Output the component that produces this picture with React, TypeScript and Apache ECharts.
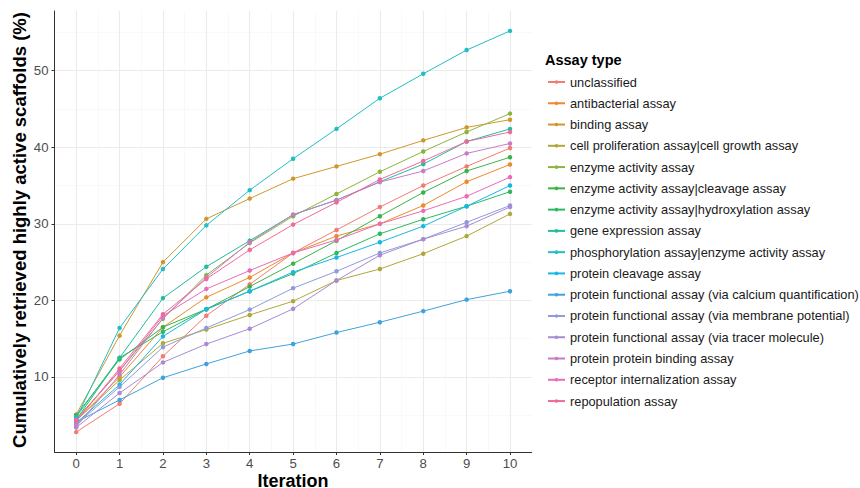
import React, { useEffect, useRef } from "react";
import * as echarts from "echarts";

const iterations = [0, 1, 2, 3, 4, 5, 6, 7, 8, 9, 10];

const assayTypes = [
  "unclassified",
  "antibacterial assay",
  "binding assay",
  "cell proliferation assay|cell growth assay",
  "enzyme activity assay",
  "enzyme activity assay|cleavage assay",
  "enzyme activity assay|hydroxylation assay",
  "gene expression assay",
  "phosphorylation assay|enzyme activity assay",
  "protein cleavage assay",
  "protein functional assay (via calcium quantification)",
  "protein functional assay (via membrane potential)",
  "protein functional assay (via tracer molecule)",
  "protein protein binding assay",
  "receptor internalization assay",
  "repopulation assay",
];

const colors = [
  "#F27B72", "#EC8A2C", "#D0982C", "#B0A73A", "#8DB43A", "#3AB44A", "#2DB862", "#22BC9E",
  "#22BEC6", "#1AB7E6", "#3FA2DC", "#8F9BD8", "#A88BD4", "#C97CC6", "#E86DB6", "#EF6A9C",
];

const unclassified = [2.8, 6.5, 12.7, 18.0, 22.1, 26.2, 29.2, 32.2, 35.0, 37.5, 39.9];
const antibacterial = [4.3, 10.0, 16.5, 20.4, 23.0, 26.2, 28.4, 30.0, 32.4, 35.5, 37.75];
const binding = [5.1, 15.4, 25.0, 30.65, 33.3, 35.9, 37.5, 39.1, 40.9, 42.6, 43.6];
const cellProliferation = [4.3, 9.6, 14.4, 16.2, 18.1, 19.9, 22.6, 24.1, 26.1, 28.4, 31.3];
const enzymeActivity = [4.5, 10.8, 17.6, 23.3, 27.5, 31.0, 33.9, 36.8, 39.45, 42.0, 44.4];
const enzymeCleavage = [5.0, 12.3, 16.5, 18.85, 21.8, 24.8, 27.8, 31.0, 34.1, 36.9, 38.7];
const enzymeHydroxylation = [4.4, 12.5, 15.9, 18.85, 21.2, 23.5, 26.2, 28.7, 30.6, 32.3, 34.2];
const geneExpression = [4.8, 12.5, 20.3, 24.4, 27.8, 31.2, 33.1, 35.5, 37.8, 40.75, 42.4];
const phosphorylation = [4.6, 16.4, 24.1, 29.8, 34.4, 38.5, 42.4, 46.4, 49.6, 52.7, 55.2];
const proteinCleavage = [4.0, 9.0, 15.3, 18.85, 21.2, 23.7, 25.6, 27.6, 29.7, 32.3, 35.0];
const calcium = [4.1, 7.0, 9.9, 11.7, 13.4, 14.3, 15.8, 17.15, 18.6, 20.1, 21.2];
const membrane = [3.8, 8.7, 13.9, 16.4, 18.8, 21.6, 23.8, 26.2, 28.0, 30.2, 32.4];
const tracer = [3.4, 7.9, 11.9, 14.3, 16.3, 18.9, 22.6, 25.9, 28.0, 29.7, 32.2];
const proteinProteinBinding = [3.5, 10.3, 17.7, 23.0, 27.6, 31.2, 33.1, 35.45, 36.9, 39.2, 40.5];
const receptorInternalization = [4.4, 10.8, 18.0, 21.5, 23.9, 26.2, 27.9, 30.0, 31.7, 33.6, 36.1];
const repopulation = [4.2, 11.1, 18.2, 22.8, 26.6, 29.9, 32.8, 35.8, 38.2, 40.75, 42.0];

const seriesValues = [
  unclassified, antibacterial, binding, cellProliferation, enzymeActivity, enzymeCleavage,
  enzymeHydroxylation, geneExpression, phosphorylation, proteinCleavage, calcium, membrane,
  tracer, proteinProteinBinding, receptorInternalization, repopulation,
];

const FONT = '"Liberation Sans", Arial, Helvetica, sans-serif';

export default function App() {
  const ref = useRef<HTMLDivElement>(null);
  useEffect(() => {
    if (!ref.current) return;
    const chart = echarts.init(ref.current, null, { renderer: "svg" });
    const series = assayTypes.map((name, k) => ({
      name,
      type: "line",
      data: iterations.map((it, i) => [it, seriesValues[k][i]]),
      symbol: "circle",
      symbolSize: 4.5,
      showSymbol: true,
      color: colors[k],
      lineStyle: { width: 1, color: colors[k] },
      itemStyle: { color: colors[k] },
      emphasis: { disabled: true },
      silent: true,
    }));
    chart.setOption({
      animation: false,
      backgroundColor: "#ffffff",
      textStyle: { fontFamily: FONT },
      grid: { left: 54.5, right: 328.3, top: 11, bottom: 36, containLabel: false },
      xAxis: {
        type: "value",
        min: -0.5,
        max: 10.5,
        splitNumber: 11,
        minInterval: 1,
        maxInterval: 1,
        axisLine: { show: true, onZero: false, lineStyle: { color: "#333333", width: 1 } },
        axisTick: { show: true, length: 3, lineStyle: { color: "#333333", width: 1 } },
        axisLabel: {
          showMinLabel: false,
          showMaxLabel: false,
          fontSize: 13.2,
          color: "#4D4D4D",
          margin: 5,
          fontFamily: FONT,
        },
        splitLine: {
          show: true,
          showMinLine: false,
          showMaxLine: false,
          lineStyle: { color: "#EBEBEB", width: 1.1 },
        },
        minorTick: { show: false, splitNumber: 2 },
        minorSplitLine: { show: true, lineStyle: { color: "#F5F5F5", width: 0.6 } },
      },
      yAxis: {
        type: "value",
        min: 0.2,
        max: 57.8,
        splitNumber: 6,
        minInterval: 10,
        maxInterval: 10,
        axisLine: { show: true, onZero: false, lineStyle: { color: "#333333", width: 1 } },
        axisTick: { show: true, length: 3, lineStyle: { color: "#333333", width: 1 } },
        axisLabel: {
          showMinLabel: false,
          showMaxLabel: false,
          fontSize: 13.2,
          color: "#4D4D4D",
          margin: 6,
          fontFamily: FONT,
        },
        splitLine: {
          show: true,
          showMinLine: false,
          showMaxLine: false,
          lineStyle: { color: "#EBEBEB", width: 1.1 },
        },
        minorTick: { show: false, splitNumber: 2 },
        minorSplitLine: { show: true, lineStyle: { color: "#F5F5F5", width: 0.6 } },
      },
      legend: {
        orient: "vertical",
        left: 547,
        top: 74,
        padding: 0,
        itemWidth: 17,
        itemHeight: 4.5,
        itemGap: 5.27,
        selectedMode: false,
        textStyle: { fontSize: 12.8, color: "#1A1A1A", fontFamily: FONT, lineHeight: 16 },
        data: assayTypes,
      },
      graphic: [
        {
          type: "text",
          x: 545,
          y: 59.5,
          silent: true,
          style: {
            text: "Assay type",
            font: `bold 14.5px ${FONT}`,
            fill: "#000000",
            align: "left",
            verticalAlign: "middle",
          },
        },
        {
          type: "text",
          x: 293,
          y: 480.5,
          silent: true,
          style: {
            text: "Iteration",
            font: `bold 18px ${FONT}`,
            fill: "#000000",
            align: "center",
            verticalAlign: "middle",
          },
        },
        {
          type: "text",
          x: 19,
          y: 230,
          rotation: Math.PI / 2,
          silent: true,
          style: {
            text: "Cumulatively retrieved highly active scaffolds (%)",
            font: `bold 18.5px ${FONT}`,
            fill: "#000000",
            align: "center",
            verticalAlign: "middle",
          },
        },
      ],
      series,
    });
    return () => chart.dispose();
  }, []);
  return (
    <div
      ref={ref}
      style={{ position: "fixed", left: 0, top: 0, width: 860, height: 488, background: "#fff" }}
    />
  );
}
